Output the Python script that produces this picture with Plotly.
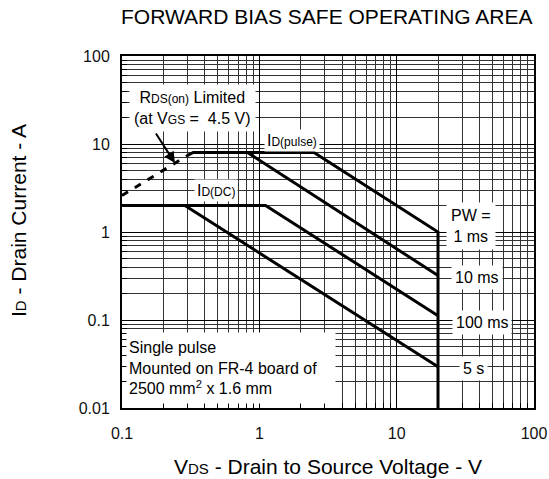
import math
import plotly.graph_objects as go

# ---------------- data ----------------
x_tick_vals = [0.1, 1, 10, 100]
x_tick_text = ["0.1", "1", "10", "100"]
y_tick_vals = [0.01, 0.1, 1, 10, 100]
y_tick_text = ["0.01", "0.1", "1", "10", "100"]

# ID(pulse) limit + 1 ms line + VDSS limit (V, A)
v_pulse_1ms = [0.30, 0.33, 2.5, 20, 20]
i_pulse_1ms = [7.4, 8.0, 8.0, 1.0, 0.01]
# 10 ms line
v_10ms = [0.82, 20]
i_10ms = [8.0, 0.32]
# ID(DC) limit + 100 ms line
v_dc_100ms = [0.1, 1.11, 20]
i_dc_100ms = [2.0, 2.0, 0.112]
# 5 s line
v_5s = [0.287, 20]
i_5s = [2.0, 0.0294]
# RDS(on) limited (dashed)
v_rds = [0.1, 0.3]
i_rds = [2.6, 7.4]

minor_x = [m * 10 ** e for e in (-1, 0, 1) for m in range(2, 10)]
minor_y = [m * 10 ** e for e in (-2, -1, 0, 1) for m in range(2, 10)]

FONT = "Liberation Sans, Arial, sans-serif"
W, H = 549, 479
L, R, T, B = 122, 15, 56, 71
PW, PH = W - L - R, H - T - B


def paper(xp, yp):
    return (xp - L) / PW, (H - B - yp) / PH


fig = go.Figure()
line = dict(color="black", width=3)
fig.add_trace(go.Scatter(x=v_pulse_1ms, y=i_pulse_1ms, mode="lines", line=line))
fig.add_trace(go.Scatter(x=v_10ms, y=i_10ms, mode="lines", line=line))
fig.add_trace(go.Scatter(x=v_dc_100ms, y=i_dc_100ms, mode="lines", line=line))
fig.add_trace(go.Scatter(x=v_5s, y=i_5s, mode="lines", line=line))
fig.add_trace(go.Scatter(x=v_rds, y=i_rds, mode="lines",
                         line=dict(color="black", width=3, dash="7px,8px")))

axis_common = dict(
    type="log",
    showline=True, linecolor="black", linewidth=2, mirror=True,
    showgrid=True, gridcolor="black", gridwidth=1,
    ticks="", zeroline=False, automargin=False,
    tickfont=dict(family=FONT, size=16, color="#111"),
)
fig.update_xaxes(
    **axis_common,
    range=[-1, 2],
    tickvals=x_tick_vals, ticktext=x_tick_text,
    ticklabelstandoff=10,
    minor=dict(tickvals=minor_x, showgrid=True, gridcolor="#333", gridwidth=1,
               ticks="inside", ticklen=5, tickcolor="black"),
)
fig.update_yaxes(
    **axis_common,
    range=[-2, 2],
    tickvals=y_tick_vals, ticktext=y_tick_text,
    ticklabelstandoff=7,
    minor=dict(tickvals=minor_y, showgrid=True, gridcolor="#333", gridwidth=1,
               ticks="inside", ticklen=5, tickcolor="black"),
)

sm = lambda s, size=11: f"<span style='font-size:{size}px'>{s}</span>"

anns = []


def add_text(text, xp, yp, size=16, bg="white", **kw):
    px_, py_ = paper(xp, yp)
    d = dict(text=text, x=px_, y=py_, xref="paper", yref="paper",
             xanchor="center", yanchor="middle",
             showarrow=False, font=dict(family=FONT, size=size, color="black"),
             bgcolor=bg, borderpad=3)
    d.update(kw)
    anns.append(d)


# title & axis titles
add_text("FORWARD BIAS SAFE OPERATING AREA", 327, 17, size=21, bg=None)
add_text("V" + sm("DS", 15) + " - Drain to Source Voltage - V", 328, 467, size=21, bg=None)
add_text("I" + sm("D", 15) + " - Drain Current - A", 18, 221, size=21, bg=None, textangle=-90)

# labels
add_text("R" + sm("DS(on)", 12) + " Limited<br>(at V" + sm("GS", 12) + " =&nbsp; 4.5 V)", 192, 108, borderpad=4)
add_text("I" + sm("D(pulse)", 12), 292, 140, borderpad=2)
add_text("I" + sm("D(DC)", 12), 216, 190, borderpad=2)
add_text("PW =<br>1 ms", 471, 226, borderpad=4)
add_text("10 ms", 477, 277)
add_text("100 ms", 482, 322)
add_text("5 s", 473, 368)
add_text("Single pulse<br>Mounted on FR-4 board of<br>2500 mm<sup>2</sup> x 1.6 mm", 126, 368,
         xanchor="left", align="left", width=204, height=66, borderpad=2)

# arrow for RDS(on) limit
anns.append(dict(x=math.log10(0.243), y=math.log10(6.08), xref="x", yref="y",
                 text="", showarrow=True, ax=-20, ay=-31,
                 arrowhead=2, arrowsize=1.1, arrowwidth=2, arrowcolor="black"))

fig.update_layout(
    width=W, height=H,
    margin=dict(l=L, r=R, t=T, b=B, autoexpand=False),
    paper_bgcolor="white", plot_bgcolor="white",
    showlegend=False,
    annotations=anns,
    font=dict(family=FONT, color="black"),
)

fig.write_html(
    "out.html",
    config={"displayModeBar": False},
    post_script="document.body.style.margin='0';document.body.style.overflow='hidden';",
)
